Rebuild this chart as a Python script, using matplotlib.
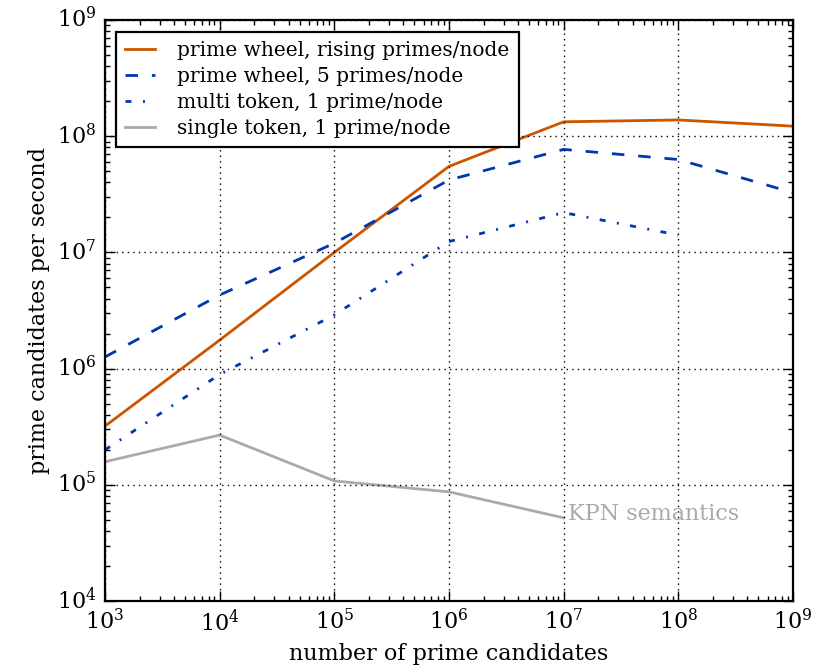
import matplotlib
matplotlib.use('Agg')
import matplotlib.pyplot as plt

plt.style.use('classic')
plt.rcParams['font.family'] = 'DejaVu Serif'
plt.rcParams['mathtext.fontset'] = 'dejavuserif'
plt.rcParams['lines.scale_dashes'] = False

# datos
n_candidatos = [1e3, 1e4, 1e5, 1e6, 1e7, 1e8, 1e9]
wheel_rising = [3.2e5, 1.76e6, 1.0e7, 5.5e7, 1.33e8, 1.38e8, 1.22e8]
wheel_5 = [1.26e6, 4.3e6, 1.2e7, 4.2e7, 7.7e7, 6.3e7, 3.27e7]
multi_x = [1e3, 1e4, 1e5, 1e6, 1e7, 1e8]
multi_token = [2.0e5, 8.9e5, 2.9e6, 1.24e7, 2.2e7, 1.41e7]
single_x = [1e3, 1e4, 1e5, 1e6, 1e7]
single_token = [1.58e5, 2.68e5, 1.08e5, 8.7e4, 5.2e4]

naranja = '#cc5500'
azul = '#0036b0'
gris = '#aaaaaa'

fig = plt.figure(figsize=(8.25, 6.69), dpi=100)
fig.patch.set_facecolor('white')
ax = fig.add_axes([0.1273, 0.1016, 0.8339, 0.8685])

ax.plot(n_candidatos, wheel_rising, color=naranja, lw=2,
        label='prime wheel, rising primes/node')
ax.plot(n_candidatos, wheel_5, color=azul, lw=2, dashes=(9, 10),
        label='prime wheel, 5 primes/node')
ax.plot(multi_x, multi_token, color=azul, lw=2, dashes=(4.3, 8.3, 1.4, 8.3),
        label='multi token, 1 prime/node')
ax.plot(single_x, single_token, color=gris, lw=2,
        label='single token, 1 prime/node')

ax.text(1.09e7, 5.6e4, 'KPN semantics', color=gris, fontsize=16,
        va='center', ha='left')

ax.set_xscale('log')
ax.set_yscale('log')
ax.set_xlim(1e3, 1e9)
ax.set_ylim(1e4, 1e9)

ax.grid(True, which='major', color='black', linestyle=':', linewidth=1)
for s in ax.spines.values():
    s.set_linewidth(1.6)
ax.tick_params(which='major', length=7, width=1, labelsize=16, pad=6)
ax.tick_params(which='minor', length=3.5, width=1)

ax.set_xlabel('number of prime candidates', fontsize=16)
ax.set_ylabel('prime candidates per second', fontsize=16)

leg = ax.legend(loc='upper left', bbox_to_anchor=(0.016, 0.979),
                borderaxespad=0, fontsize=14.5, handlelength=1.5,
                handletextpad=1.1, labelspacing=0.35, borderpad=0.45,
                fancybox=False, numpoints=1)
leg.get_frame().set_linewidth(1.6)
leg.get_frame().set_edgecolor('black')

fig.savefig('out.png', dpi=100)
